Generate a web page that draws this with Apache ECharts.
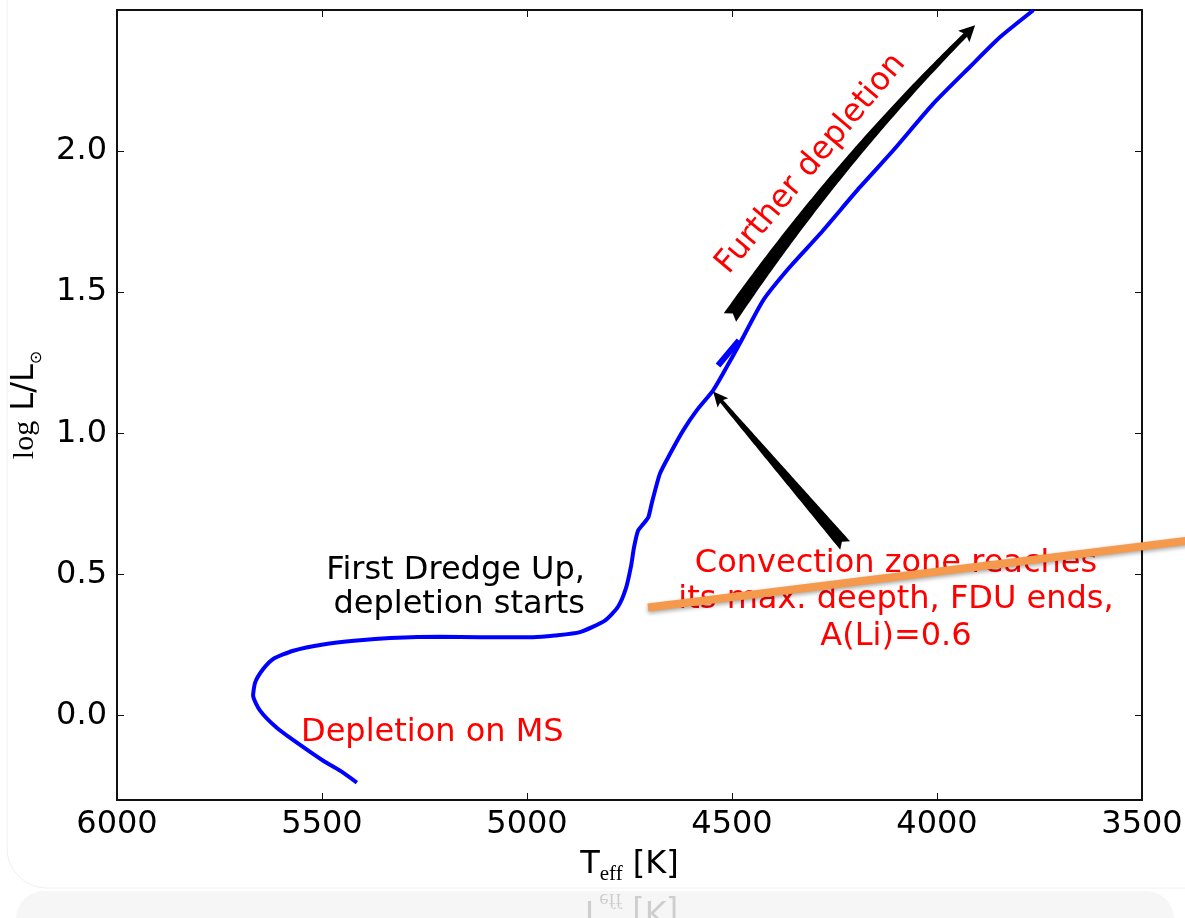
<!DOCTYPE html>
<html><head><meta charset="utf-8">
<script src="https://cdn.jsdelivr.net/npm/echarts@6/dist/echarts.min.js"></script>
<style>html,body{margin:0;padding:0;background:#fff}#c{width:1185px;height:918px}</style>
</head><body><div id="c"></div>
<script>
// ---------------- data ----------------
const xTickInterval = 500;
const yTickValues = [0.0, 0.5, 1.0, 1.5, 2.0];

// evolutionary track (Teff [K], log L/Lsun)
const trackTeff = [5415, 5456, 5497, 5562, 5611, 5651, 5668, 5663, 5643, 5619, 5570, 5497, 5415, 5334, 5212, 5115, 4985, 4932, 4871, 4810, 4778, 4759, 4746, 4739, 4729, 4716, 4704, 4696, 4676, 4651, 4619, 4586, 4546, 4512, 4481, 4424, 4359, 4285, 4188, 4107, 4009, 3920, 3846, 3765];
const trackLogL = [-0.238, -0.196, -0.161, -0.096, -0.043, 0.017, 0.070, 0.117, 0.165, 0.200, 0.229, 0.251, 0.265, 0.274, 0.279, 0.277, 0.277, 0.283, 0.295, 0.336, 0.385, 0.449, 0.531, 0.595, 0.655, 0.679, 0.702, 0.750, 0.856, 0.927, 1.010, 1.081, 1.152, 1.237, 1.318, 1.471, 1.589, 1.707, 1.872, 2.002, 2.168, 2.298, 2.404, 2.499];

// short thick dash on the track
const dashTeff = [4534, 4483];
const dashLogL = [1.240, 1.329];

// orange overlay line [startTeff, startLogL, endTeff, endLogL]
const fduLine = [4705, 0.382, 3380, 0.621];

// arrows: [tailTeff, tailLogL, ctrlTeff, ctrlLogL, headTeff, headLogL]
const arrowFduEnd = [4224, 0.602, 4385, 0.875, 4546, 1.148];
const arrowFurther = [4505, 1.410, 4237, 1.974, 3907, 2.446];

// ---------------- chart ----------------
const FONT = 'DejaVu Sans';
const SERIF = 'Liberation Serif';
const chart = echarts.init(document.getElementById('c'), null, {renderer: 'canvas', width: 1185, height: 918});

const zip = (a, b) => a.map((v, i) => [v, b[i]]);

function arrowPolygon(p0, c, p1, o) {
  const N = 80, pts = [];
  for (let i = 0; i <= N; i++) {
    const t = i / N, a = (1 - t) * (1 - t), b = 2 * t * (1 - t), d = t * t;
    pts.push([a * p0[0] + b * c[0] + d * p1[0], a * p0[1] + b * c[1] + d * p1[1]]);
  }
  const cum = [0];
  for (let i = 1; i <= N; i++) cum.push(cum[i - 1] + Math.hypot(pts[i][0] - pts[i - 1][0], pts[i][1] - pts[i - 1][1]));
  const neckLen = cum[N] - o.headLen;
  const tanAt = (i) => {
    const i0 = Math.max(0, i - 1), i1 = Math.min(N, i + 1);
    const dx = pts[i1][0] - pts[i0][0], dy = pts[i1][1] - pts[i0][1];
    const l = Math.hypot(dx, dy); return [dx / l, dy / l];
  };
  const left = [], right = [];
  let j = 0;
  for (let i = 0; i <= N; i++) {
    if (cum[i] > neckLen) break;
    j = i;
    const tn = tanAt(i), nr = [-tn[1], tn[0]];
    const w = o.wTail + (o.wNeck - o.wTail) * cum[i] / neckLen;
    left.push([pts[i][0] + nr[0] * w / 2, pts[i][1] + nr[1] * w / 2]);
    right.push([pts[i][0] - nr[0] * w / 2, pts[i][1] - nr[1] * w / 2]);
  }
  const f = (neckLen - cum[j]) / (cum[j + 1] - cum[j]);
  const neck = [pts[j][0] + f * (pts[j + 1][0] - pts[j][0]), pts[j][1] + f * (pts[j + 1][1] - pts[j][1])];
  const tn = tanAt(j + 1), nr = [-tn[1], tn[0]];
  left.push([neck[0] + nr[0] * o.wNeck / 2, neck[1] + nr[1] * o.wNeck / 2]);
  right.push([neck[0] - nr[0] * o.wNeck / 2, neck[1] - nr[1] * o.wNeck / 2]);
  const barbL = [neck[0] - tn[0] * o.sweep + nr[0] * o.headW / 2, neck[1] - tn[1] * o.sweep + nr[1] * o.headW / 2];
  const barbR = [neck[0] - tn[0] * o.sweep - nr[0] * o.headW / 2, neck[1] - tn[1] * o.sweep - nr[1] * o.headW / 2];
  const t0 = tanAt(0);
  const notch = [p0[0] + t0[0] * o.notch, p0[1] + t0[1] * o.notch];
  return [notch].concat(left, [barbL, p1, barbR], right.reverse());
}

function arrowRenderer(o) {
  return function (params, api) {
    const p0 = api.coord([api.value(0), api.value(1)]);
    const c = api.coord([api.value(2), api.value(3)]);
    const p1 = api.coord([api.value(4), api.value(5)]);
    return {type: 'polygon', shape: {points: arrowPolygon(p0, c, p1, o)}, style: {fill: '#000'}};
  };
}

function overlayLineRenderer(params, api) {
  const a = api.coord([api.value(0), api.value(1)]);
  const b = api.coord([api.value(2), api.value(3)]);
  return {type: 'line', shape: {x1: a[0], y1: a[1], x2: b[0], y2: b[1]},
    style: {stroke: '#f59a4d', lineWidth: 8, lineCap: 'butt',
      shadowColor: 'rgba(0,0,0,0.35)', shadowBlur: 4, shadowOffsetY: 2}};
}

const xNameRich = {
  t: {fontFamily: FONT, fontSize: 32, lineHeight: 40, color: '#000'},
  e: {fontFamily: SERIF, fontSize: 21, verticalAlign: 'bottom', color: '#000'},
  k: {fontFamily: FONT, fontSize: 32, lineHeight: 40, color: '#000'}
};
const xNameRichZr = {
  t: {fontFamily: FONT, fontSize: 32, lineHeight: 40, fill: '#000'},
  e: {fontFamily: SERIF, fontSize: 21, verticalAlign: 'bottom', fill: '#000'},
  k: {fontFamily: FONT, fontSize: 32, lineHeight: 40, fill: '#000'}
};
const xName = '{t|T}{e|eff}{k| [K]}';

const axisCommon = {
  axisLine: {show: true, onZero: false, lineStyle: {color: '#111', width: 2}},
  axisTick: {show: true, inside: true, length: 7, lineStyle: {color: '#111', width: 1}},
  splitLine: {show: false}
};

chart.setOption({
  animation: false,
  backgroundColor: '#fff',
  grid: {left: 117, top: 10, right: 43, bottom: 118, containLabel: false, outerBoundsMode: 'none'},
  xAxis: [
    Object.assign({}, axisCommon, {
      type: 'value', min: 3500, max: 6000, interval: xTickInterval, inverse: true, position: 'bottom',
      axisLabel: {show: true, color: '#000', fontSize: 32, fontFamily: FONT, margin: 9, showMinLabel: true, showMaxLabel: true,
        formatter: v => String(v)},
      name: xName, nameLocation: 'middle', nameGap: 45,
      nameTextStyle: {color: '#000', rich: xNameRich}
    }),
    Object.assign({}, axisCommon, {
      type: 'value', min: 3500, max: 6000, interval: xTickInterval, inverse: true, position: 'top',
      axisLabel: {show: false}
    })
  ],
  yAxis: [
    Object.assign({}, axisCommon, {
      type: 'value', min: -0.3, max: 2.5, position: 'left',
      axisTick: {show: true, inside: true, length: 7, lineStyle: {color: '#111', width: 1}, customValues: yTickValues},
      axisLabel: {show: true, color: '#000', fontSize: 32, fontFamily: FONT, margin: 10, customValues: yTickValues,
        formatter: v => Number(v).toFixed(1)},
      name: '{l|log}{m| L/L}{s|⊙}', nameLocation: 'middle', nameGap: 72, nameRotate: 90,
      nameTextStyle: {color: '#000', rich: {
        l: {fontFamily: SERIF, fontSize: 30, lineHeight: 40, color: '#000'},
        m: {fontFamily: FONT, fontSize: 32, lineHeight: 40, color: '#000'},
        s: {fontFamily: FONT, fontSize: 16, verticalAlign: 'bottom', color: '#000'}
      }}
    }),
    Object.assign({}, axisCommon, {
      type: 'value', min: -0.3, max: 2.5, position: 'right',
      axisTick: {show: true, inside: true, length: 7, lineStyle: {color: '#111', width: 1}, customValues: yTickValues},
      axisLabel: {show: false}
    })
  ],
  graphic: [
    {type: 'rect', z: -10, silent: true, shape: {x: 7, y: -60, width: 1240, height: 948, r: 40},
      style: {fill: '#fff', stroke: '#f0f0f0', lineWidth: 1}},
    {type: 'rect', z: -10, silent: true, shape: {x: 16, y: 891, width: 1158, height: 60, r: [28, 28, 0, 0]},
      style: {fill: '#f6f6f6'}},
    {type: 'text', z: -5, silent: true, x: 629, y: 889, scaleY: -1,
      style: {text: xName, rich: xNameRichZr, align: 'center', verticalAlign: 'bottom', opacity: 0.16}},
    {type: 'text', silent: true, x: 585, y: 588,
      style: {text: 'First Dredge Up,\ndepletion starts', fontFamily: FONT, fontSize: 32, lineHeight: 34.3,
        fill: '#000', align: 'right', verticalAlign: 'middle'}},
    {type: 'text', silent: true, x: 301, y: 733,
      style: {text: 'Depletion on MS', fontFamily: FONT, fontSize: 32, fill: '#ff0000', align: 'left', verticalAlign: 'middle'}},
    {type: 'text', silent: true, x: 896, y: 600,
      style: {text: 'Convection zone reaches\nits max. deepth, FDU ends,\nA(Li)=0.6', fontFamily: FONT, fontSize: 32,
        lineHeight: 36.7, fill: '#ff0000', align: 'center', verticalAlign: 'middle'}},
    {type: 'text', silent: true, x: 811, y: 164, rotation: 50 * Math.PI / 180,
      style: {text: 'Further depletion', fontFamily: FONT, fontSize: 32, fill: '#ff0000', align: 'center', verticalAlign: 'middle'}}
  ],
  series: [
    {type: 'line', data: zip(trackTeff, trackLogL), showSymbol: false, smooth: 0.2, silent: true, z: 3,
      lineStyle: {color: '#0000ff', width: 4}},
    {type: 'line', data: zip(dashTeff, dashLogL), showSymbol: false, silent: true, z: 3,
      lineStyle: {color: '#0000ff', width: 6, cap: 'butt'}},
    {type: 'custom', coordinateSystem: 'cartesian2d', silent: true, z: 5, clip: false,
      encode: {x: [0, 2, 4], y: [1, 3, 5]}, data: [arrowFduEnd],
      renderItem: arrowRenderer({wTail: 13, wNeck: 4, headLen: 13, headW: 14, sweep: 2, notch: 5})},
    {type: 'custom', coordinateSystem: 'cartesian2d', silent: true, z: 5, clip: false,
      encode: {x: [0, 2, 4], y: [1, 3, 5]}, data: [arrowFurther],
      renderItem: arrowRenderer({wTail: 15, wNeck: 5, headLen: 14, headW: 16, sweep: 2, notch: 5})},
    {type: 'custom', coordinateSystem: 'cartesian2d', silent: true, z: 10, clip: false,
      encode: {x: [0, 2], y: [1, 3]}, data: [fduLine], renderItem: overlayLineRenderer}
  ]
});
</script>
</body></html>
